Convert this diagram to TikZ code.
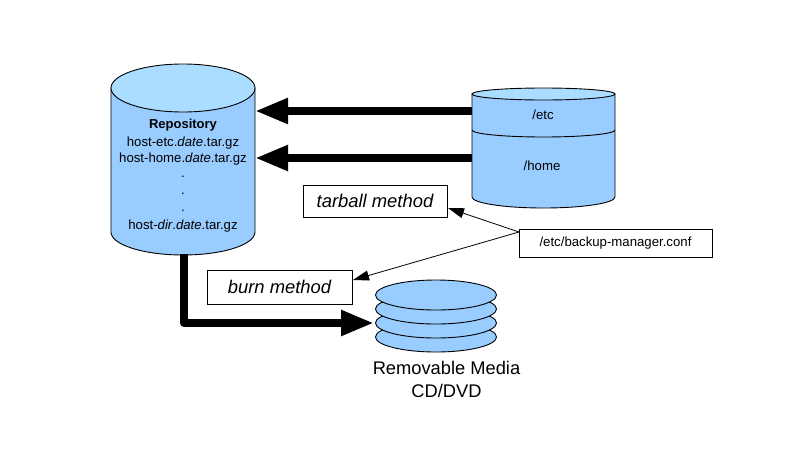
\documentclass[tikz,border=0pt]{standalone}
\usepackage{fontspec}
\setmainfont{Liberation Sans}
\usetikzlibrary{arrows.meta}
\definecolor{body}{HTML}{99CCFF}
\definecolor{lid}{HTML}{AADDFF}
\tikzset{
  shapeline/.style={draw=black,line width=0.9pt},
  small/.style={font=\fontsize{13.2}{15}\selectfont,inner sep=0pt,anchor=center},
  big/.style={font=\fontsize{18.3}{20}\selectfont,inner sep=0pt,anchor=center},
  method/.style={font=\itshape\fontsize{18.4}{20}\selectfont,draw=black,fill=white,line width=0.9pt,inner sep=0pt},
  thick arrow/.style={draw=black,line width=8pt,line join=round,-{Triangle[length=33pt,width=24pt]}},
  thin arrow/.style={draw=black,line width=0.8pt,-{Triangle[length=16pt,width=10pt]}}
}
\begin{document}
\begin{tikzpicture}[x=1pt,y=-1pt]
\useasboundingbox (0,0) rectangle (800,450);
% repository cylinder
\path[shapeline,fill=body] (111,88) -- (111,232) arc[start angle=180,end angle=0,x radius=72,y radius=23] -- (255,88) -- cycle;
\path[shapeline,fill=lid] (183,88) ellipse[x radius=72,y radius=24];
% source cylinder
\path[shapeline,fill=body] (472,94) -- (472,197) arc[start angle=180,end angle=0,x radius=71.5,y radius=11] -- (615,94) -- cycle;
\path[shapeline,fill=lid] (543.5,94) ellipse[x radius=71.5,y radius=6];
\draw[shapeline] (472,130) arc[start angle=180,end angle=0,x radius=71.5,y radius=7];
% media stack
\foreach \yy in {337,323,309,295}
  \path[shapeline,fill=body] (436,\yy) ellipse[x radius=60.5,y radius=15];
% anchors
\coordinate (repoA) at (255,111);
\coordinate (repoB) at (255,158);
\coordinate (srcA) at (472,111);
\coordinate (srcB) at (472,158);
\coordinate (repoC) at (184,254);
\coordinate (bend) at (184,323);
\coordinate (mediaA) at (374,323);
\coordinate (confA) at (519,232);
\coordinate (tarTip) at (448,208);
\coordinate (burnTip) at (353,280);
% texts
\node[small,font=\bfseries\fontsize{13}{15}\selectfont] (t1) at (183,125) {Repository};
\node[small] (t2) at (183,143) {host-etc.\textit{date}.tar.gz};
\node[small] (t3) at (183,159) {host-home.\textit{date}.tar.gz};
\node[small] (t4) at (183,177) {.};
\node[small] (t5) at (183,194) {.};
\node[small] (t6) at (183,211) {.};
\node[small] (t7) at (183,226) {host-\textit{dir}.\textit{date}.tar.gz};
\node[small] (t8) at (543,115) {/etc};
\node[small] (t9) at (542,166) {/home};
\node[big] (t10) at (446.5,367.5) {Removable Media};
\node[big] (t11) at (446.5,390.5) {CD/DVD};
% boxes
\node[method,minimum width=144pt,minimum height=32pt] (tar) at (375,201) {tarball method};
\node[method,minimum width=145pt,minimum height=34pt] (burn) at (279.5,287) {burn method};
\node[draw=black,fill=white,line width=0.9pt,font=\fontsize{13.2}{15}\selectfont,inner sep=0pt,minimum width=193pt,minimum height=28pt] (conf) at (615.5,243) {/etc/backup-manager.conf};
% connectors
\draw[thick arrow] (srcA) -- (repoA);
\draw[thick arrow] (srcB) -- (repoB);
\draw[thick arrow] (repoC) -- (bend) -- (mediaA);
\draw[thin arrow] (confA) -- (tarTip);
\draw[thin arrow] (confA) -- (burnTip);
\end{tikzpicture}
\end{document}
